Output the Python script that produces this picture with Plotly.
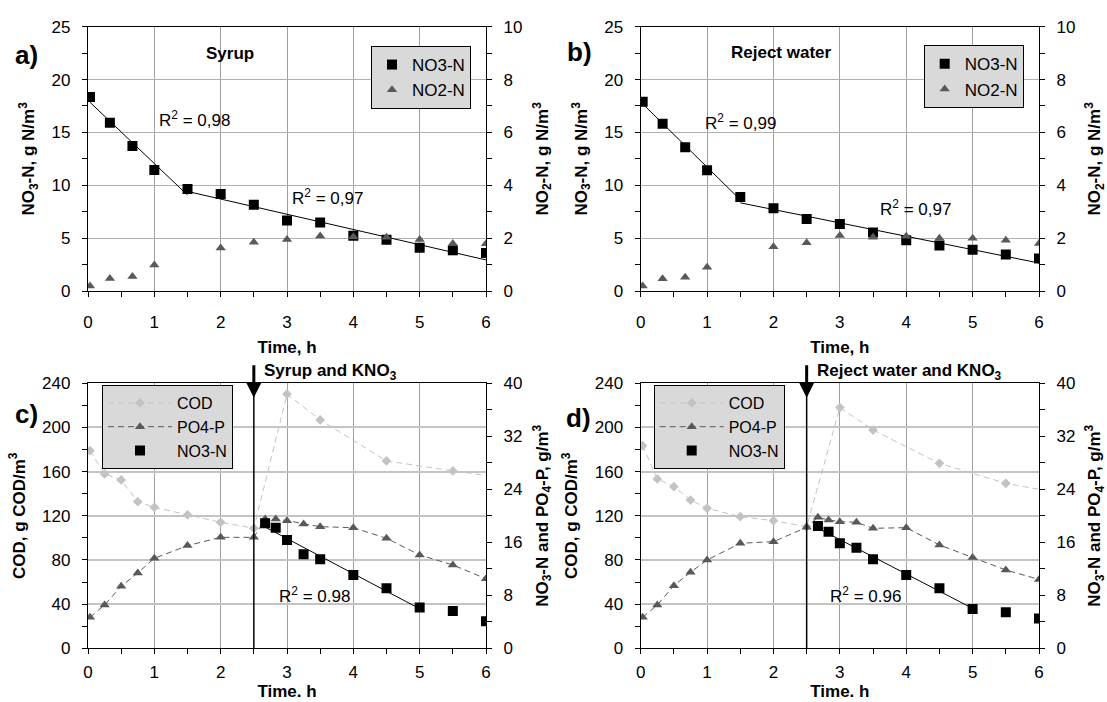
import numpy as np
import plotly.graph_objects as go

W, H = 1107, 702
FONT = "Arial, 'Liberation Sans', sans-serif"

# ---------------- data ----------------
t_top = [0.03, 0.33, 0.67, 1, 1.5, 2, 2.5, 3, 3.5, 4, 4.5, 5, 5.5, 6]
t_top_no2 = [0.03, 0.33, 0.67, 1, 2, 2.5, 3, 3.5, 4, 4.5, 5, 5.5, 6]
a_no3 = [18.35, 15.92, 13.71, 11.44, 9.65, 9.17, 8.17, 6.68, 6.49, 5.23, 4.85, 4.10, 3.85, 3.60]
a_no2 = [0.19, 0.47, 0.55, 0.98, 1.63, 1.84, 1.95, 2.08, 2.05, 2.03, 1.95, 1.80, 1.79]
b_no3 = [17.90, 15.83, 13.60, 11.43, 8.89, 7.82, 6.82, 6.34, 5.53, 4.81, 4.30, 3.89, 3.45, 3.08]
b_no2 = [0.19, 0.46, 0.52, 0.90, 1.67, 1.83, 2.10, 2.03, 2.07, 2.00, 2.00, 1.92, 1.80]
top_break = 1.5          # boundary between the two linear regimes

t_cod = [0.03, 0.25, 0.5, 0.75, 1, 1.5, 2, 2.5, 3, 3.5, 4.5, 5.5, 6.5]
c_cod = [179.0, 157.9, 152.5, 132.8, 127.7, 120.8, 114.1, 108.7, 230.3, 206.8, 169.7, 160.6, 152.7]
d_cod = [183.5, 153.4, 146.4, 134.3, 126.8, 119.2, 115.6, 110.2, 218.0, 197.7, 167.5, 149.4, 138.5]
t_po4 = [0.03, 0.25, 0.5, 0.75, 1, 1.5, 2, 2.5, 2.67, 2.83, 3, 3.25, 3.5, 4, 4.5, 5, 5.5, 6]
c_po4 = [4.68, 6.54, 9.36, 11.37, 13.58, 15.50, 16.75, 16.75, 19.50, 19.50, 19.27, 18.77, 18.36, 18.20, 16.60, 14.09, 12.58, 10.50]
d_po4 = [4.68, 6.54, 9.46, 11.47, 13.33, 15.85, 16.10, 18.26, 19.77, 19.37, 19.12, 19.02, 18.11, 18.21, 15.60, 13.69, 11.82, 10.40]
t_no3 = [2.67, 2.83, 3, 3.25, 3.5, 4, 4.5, 5, 5.5, 6]
c_no3 = [18.87, 18.20, 16.35, 14.19, 13.43, 11.07, 9.06, 6.14, 5.64, 4.08]
d_no3 = [18.47, 17.61, 15.85, 15.19, 13.43, 11.07, 9.06, 5.94, 5.43, 4.50]
bottom_fit_end = 5
feed_time = 2.5

BLACK = "#000000"
DARK = "#595959"
LIGHT = "#c3c3c3"


def fit(x, y, lo, hi):
    xs = [a for a in x if lo <= a <= hi]
    ys = [b for a, b in zip(x, y) if lo <= a <= hi]
    k, c = np.polyfit(xs, ys, 1)
    ends = [xs[0], xs[-1]]
    return ends, [k * e + c for e in ends]


def px_x(p):
    return p / W


def px_y(p):
    return 1 - p / H


fig = go.Figure()

# ---------------- top panels ----------------
for (xa, ya, ya2, leg, no3, no2) in [("x", "y", "y5", "legend", a_no3, a_no2),
                                     ("x2", "y2", "y6", "legend2", b_no3, b_no2)]:
    fig.add_trace(go.Scatter(x=t_top, y=no3, mode="markers", name="NO3-N",
                             marker=dict(symbol="square", size=10, color=BLACK),
                             xaxis=xa, yaxis=ya, legend=leg))
    for lo, hi in [(0, top_break), (top_break, 6)]:
        fx, fy = fit(t_top, no3, lo, hi)
        fig.add_trace(go.Scatter(x=fx, y=fy, mode="lines", line=dict(color=BLACK, width=1),
                                 showlegend=False, hoverinfo="skip", xaxis=xa, yaxis=ya))
    fig.add_trace(go.Scatter(x=t_top_no2, y=no2, mode="markers", name="NO2-N",
                             marker=dict(symbol="triangle-up", size=9, color=DARK),
                             xaxis=xa, yaxis=ya2, legend=leg))

# ---------------- bottom panels ----------------
for (xa, ya, ya2, leg, cod, po4, no3) in [("x3", "y3", "y7", "legend3", c_cod, c_po4, c_no3),
                                          ("x4", "y4", "y8", "legend4", d_cod, d_po4, d_no3)]:
    fig.add_trace(go.Scatter(x=t_cod, y=cod, mode="lines+markers", name="COD",
                             line=dict(color=LIGHT, width=1, dash="6px,4px"),
                             marker=dict(symbol="diamond", size=7.5, color=LIGHT),
                             xaxis=xa, yaxis=ya, legend=leg))
    fig.add_trace(go.Scatter(x=t_po4, y=po4, mode="lines+markers", name="PO4-P",
                             line=dict(color=DARK, width=1, dash="6px,4px"),
                             marker=dict(symbol="triangle-up", size=9, color=DARK),
                             xaxis=xa, yaxis=ya2, legend=leg))
    fig.add_trace(go.Scatter(x=t_no3, y=no3, mode="markers", name="NO3-N",
                             marker=dict(symbol="square", size=10, color=BLACK),
                             xaxis=xa, yaxis=ya2, legend=leg))
    fx, fy = fit(t_no3, no3, 0, bottom_fit_end)
    fig.add_trace(go.Scatter(x=fx, y=fy, mode="lines", line=dict(color=BLACK, width=1),
                             showlegend=False, hoverinfo="skip", xaxis=xa, yaxis=ya2))

# ---------------- axes ----------------
XA = [88, 486]
XB = [640.7, 1039]
YT = [26.7, 291]
YB = [383.3, 648.3]

tickfont = dict(family=FONT, size=17, color=BLACK)
titlefont = dict(family=FONT, size=17, color=BLACK, weight="bold")


def xdom(p):
    return [px_x(p[0]), px_x(p[1])]


def ydom(p):
    return [px_y(p[1]), px_y(p[0])]


def xcfg(dom, anchor, title, lab_off, title_off):
    return dict(domain=xdom(dom), anchor=anchor, range=[0, 6], tick0=0, dtick=1,
                showline=True, linecolor=BLACK, linewidth=1.3, mirror=True,
                ticks="outside", ticklen=5, tickcolor=BLACK,
                minor=dict(dtick=0.5, ticks="outside", ticklen=5, tickcolor=BLACK, showgrid=False),
                showgrid=True, gridcolor="#a0a0a0", gridwidth=1, zeroline=False,
                tickfont=tickfont, ticklabelstandoff=lab_off,
                title=dict(text=title, font=titlefont, standoff=title_off), automargin=False)


def ycfg(dom, anchor, rng, dt, mdt, title, gridcolor, gridwidth):
    return dict(domain=ydom(dom), anchor=anchor, range=rng, tick0=0, dtick=dt,
                showline=True, linecolor=BLACK, linewidth=1.3,
                ticks="outside", ticklen=5, tickcolor=BLACK,
                minor=dict(dtick=mdt, ticks="outside", ticklen=5, tickcolor=BLACK, showgrid=False),
                showgrid=True, gridcolor=gridcolor, gridwidth=gridwidth, zeroline=False,
                tickfont=tickfont, ticklabelstandoff=8,
                title=dict(text=title, font=titlefont, standoff=12), automargin=False)


def y2cfg(over, anchor, rng, dt, mdt, title):
    return dict(overlaying=over, side="right", anchor=anchor, range=rng, tick0=0, dtick=dt,
                showline=True, linecolor=BLACK, linewidth=1.3,
                ticks="outside", ticklen=5, tickcolor=BLACK,
                minor=dict(dtick=mdt, ticks="outside", ticklen=5, tickcolor=BLACK, showgrid=False),
                showgrid=False, zeroline=False,
                tickfont=tickfont, ticklabelstandoff=8,
                title=dict(text=title, font=titlefont, standoff=14), automargin=False)


no3_t = "NO<sub>3</sub>-N, g N/m<sup>3</sup>"
no2_t = "NO<sub>2</sub>-N, g N/m<sup>3</sup>"
cod_t = "COD, g COD/m<sup>3</sup>"
nop_t = "NO<sub>3</sub>-N and PO<sub>4</sub>-P, g/m<sup>3</sup>"

fig.update_layout(
    xaxis=xcfg(XA, "y", "Time, h", 10, 10),
    xaxis2=xcfg(XB, "y2", "Time, h", 10, 10),
    xaxis3=xcfg(XA, "y3", "Time. h", 3, 4),
    xaxis4=xcfg(XB, "y4", "Time. h", 3, 4),
    yaxis=ycfg(YT, "x", [0, 25], 5, 2.5, no3_t, "#b0b0b0", 1),
    yaxis2=ycfg(YT, "x2", [0, 25], 5, 2.5, no3_t, "#b0b0b0", 1),
    yaxis3=ycfg(YB, "x3", [0, 240], 40, 20, cod_t, "#c4c4c4", 2),
    yaxis4=ycfg(YB, "x4", [0, 240], 40, 20, cod_t, "#c4c4c4", 2),
    yaxis5=y2cfg("y", "x", [0, 10], 2, 1, no2_t),
    yaxis6=y2cfg("y2", "x2", [0, 10], 2, 1, no2_t),
    yaxis7=y2cfg("y3", "x3", [0, 40], 8, 4, nop_t),
    yaxis8=y2cfg("y4", "x4", [0, 40], 8, 4, nop_t),
)

common_leg = dict(bgcolor="#d9d9d9", bordercolor=BLACK, borderwidth=1,
                  yanchor="top", tracegroupgap=0)
fig.update_layout(
    legend=dict(x=px_x(471), y=px_y(46), xanchor="right",
                font=dict(family=FONT, size=17, color=BLACK), **common_leg),
    legend2=dict(x=px_x(1023.7), y=px_y(45.3), xanchor="right",
                 font=dict(family=FONT, size=17, color=BLACK), **common_leg),
    legend3=dict(x=px_x(102), y=px_y(385), xanchor="left", itemwidth=64,
                 font=dict(family=FONT, size=16, color=BLACK), **common_leg),
    legend4=dict(x=px_x(653.7), y=px_y(385), xanchor="left", itemwidth=64,
                 font=dict(family=FONT, size=16, color=BLACK), **common_leg),
)

# ---------------- annotations ----------------
ann = []


def text(x, y, s, size=17, bold=False, xanchor="left"):
    ann.append(dict(x=px_x(x), y=px_y(y), xref="paper", yref="paper", text=s, showarrow=False,
                    xanchor=xanchor, yanchor="middle",
                    font=dict(family=FONT, size=size, color=BLACK, weight="bold" if bold else "normal")))


text(26, 55, "a)", 26, True, "center")
text(579, 52, "b)", 26, True, "center")
text(26, 414, "c)", 26, True, "center")
text(578.5, 417.5, "d)", 26, True, "center")
text(229.5, 53, "Syrup", 17, True, "center")
text(781, 52, "Reject water", 17, True, "center")
text(157, 119, "R<sup>2</sup> = 0,98")
text(290, 197, "R<sup>2</sup> = 0,97")
text(703, 122, "R<sup>2</sup> = 0,99")
text(878, 208, "R<sup>2</sup> = 0,97")
text(351.7, 595, "R<sup>2</sup> = 0.98", xanchor="right")
text(902.7, 595, "R<sup>2</sup> = 0.96", xanchor="right")
text(261.7, 371.7, "Syrup and KNO<sub>3</sub>", 17, True)
text(814.5, 371.7, "Reject water and KNO<sub>3</sub>", 17, True)

for xa in ["x3", "x4"]:
    ann.append(dict(x=feed_time, y=px_y(397.7), xref=xa, yref="paper", text="", showarrow=True,
                    ax=0, ay=-34, arrowhead=2, arrowsize=1, arrowwidth=3, arrowcolor=BLACK))

fig.update_layout(annotations=ann)

shapes = []
for xa, ya in [("x3", "y3 domain"), ("x4", "y4 domain")]:
    shapes.append(dict(type="line", xref=xa, yref=ya, x0=feed_time, x1=feed_time, y0=0, y1=1,
                       line=dict(color=BLACK, width=1.5)))
fig.update_layout(shapes=shapes)

fig.update_layout(width=W, height=H, margin=dict(l=0, r=0, t=0, b=0),
                  paper_bgcolor="white", plot_bgcolor="white",
                  font=dict(family=FONT, size=17, color=BLACK))

fig.write_html("out.html", config={"displayModeBar": False},
               post_script="document.body.style.margin='0';document.body.style.overflow='hidden';")
